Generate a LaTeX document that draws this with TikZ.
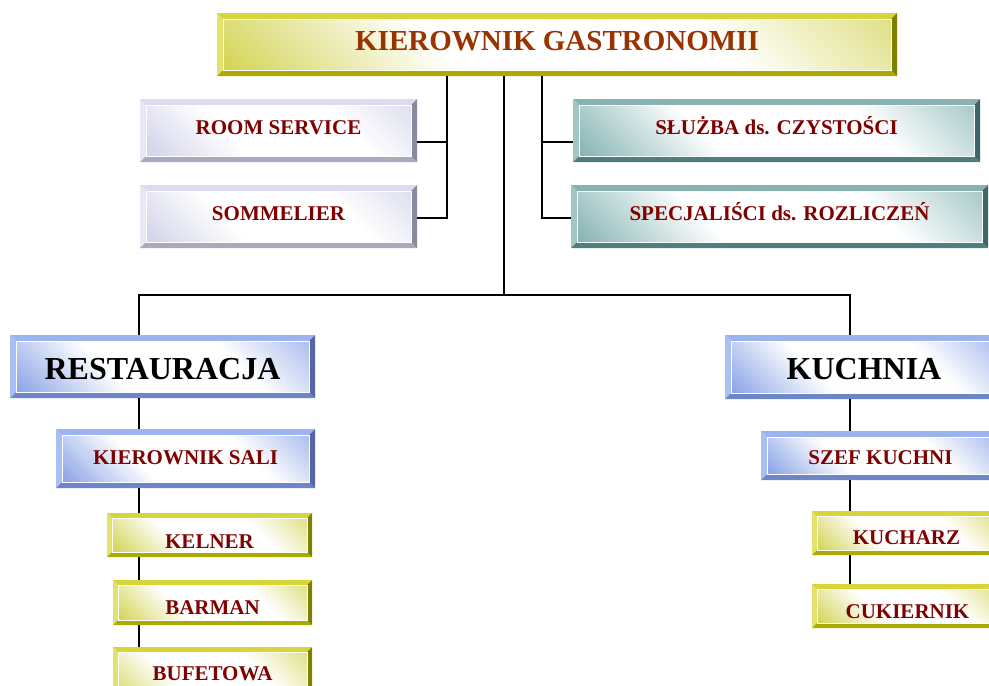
\documentclass[tikz,border=0pt]{standalone}
\usepackage{fontspec}
\setmainfont{Liberation Serif}
\usetikzlibrary{calc}

% bevel palettes: L left, T top, B bottom, R right, F face tint
\definecolor{yelL}{HTML}{E2E26C}
\definecolor{yelT}{HTML}{D6D63A}
\definecolor{yelB}{HTML}{AAAA00}
\definecolor{yelR}{HTML}{808000}
\definecolor{yelF}{HTML}{D4D458}
\definecolor{lavL}{HTML}{E8E8F4}
\definecolor{lavT}{HTML}{DCDCEE}
\definecolor{lavB}{HTML}{AAAABC}
\definecolor{lavR}{HTML}{8A8A9E}
\definecolor{lavF}{HTML}{D2D2EA}
\definecolor{teaL}{HTML}{A2C6C6}
\definecolor{teaT}{HTML}{88B2B2}
\definecolor{teaB}{HTML}{507E7E}
\definecolor{teaR}{HTML}{3E6666}
\definecolor{teaF}{HTML}{86B4B4}
\definecolor{bluL}{HTML}{AAC0F4}
\definecolor{bluT}{HTML}{9CB4EE}
\definecolor{bluB}{HTML}{6C86C8}
\definecolor{bluR}{HTML}{5466A8}
\definecolor{bluF}{HTML}{8AA4E6}
\definecolor{headtxt}{HTML}{993300}
\definecolor{redtxt}{HTML}{800000}
\colorlet{facetint}{yelF}

% face gradient along the box diagonal: tint in two opposite corners, white between
\pgfdeclarehorizontalshading[facetint]{facesh}{100bp}{%
  color(0bp)=(facetint); color(15bp)=(facetint);
  color(38bp)=(white); color(66bp)=(white);
  color(85bp)=(facetint!70!white); color(100bp)=(facetint!70!white)}

\newcommand\txtHead{\fontsize{29}{33}\selectfont\bfseries\color{headtxt}}
\newcommand\txtBig{\fontsize{32}{36}\selectfont\bfseries\color{black}}
\newcommand\txtMain{\fontsize{21}{25}\selectfont\bfseries\color{redtxt}}

\tikzset{
  boxshape/.style={rectangle, inner sep=0pt, outer sep=0pt},
  lbl/.style={inner sep=0pt, anchor=base},
  wire/.style={draw=black, line width=1.3pt},
}

% #1 name, #2 x1, #3 y1, #4 x2, #5 y2, #6 palette, #7 bevel width, #8 baseline, #9 text
\newcommand\bvbox[9]{%
  \fill[#6L] (#2,#3) -- (#2,#5) -- ({#2+#7},{#5-#7}) -- ({#2+#7},{#3+#7}) -- cycle;
  \fill[#6T] (#2,#3) -- (#4,#3) -- ({#4-#7},{#3+#7}) -- ({#2+#7},{#3+#7}) -- cycle;
  \fill[#6B] (#2,#5) -- (#4,#5) -- ({#4-#7},{#5-#7}) -- ({#2+#7},{#5-#7}) -- cycle;
  \fill[#6R] (#4,#3) -- (#4,#5) -- ({#4-#7},{#5-#7}) -- ({#4-#7},{#3+#7}) -- cycle;
  \colorlet{facetint}{#6F}%
  \shade[shading=facesh, shading angle=45]
    ({#2+#7},{#3+#7}) rectangle ({#4-#7},{#5-#7});
  \draw[white, line width=0.4pt] ({#2+#7},{#3+#7}) rectangle ({#4-#7},{#5-#7});
  \node[boxshape, minimum width={#4pt-#2pt}, minimum height={#5pt-#3pt}] (#1)
    at ({(#2+#4)/2},{(#3+#5)/2}) {};
  \node[lbl] (#1-t) at ({(#2+#4)/2},#8) {#9};
}

\begin{document}
\begin{tikzpicture}[x=1pt, y=-1pt]
  \useasboundingbox (0,0) rectangle (989,686);
  \clip (0,0) rectangle (989,686);
  \fill[white] (0,0) rectangle (989,686);

  % top of the hierarchy
  \bvbox{kg}{217}{13}{897}{76}{yel}{6}{50}{\txtHead KIEROWNIK GASTRONOMII}

  % staff reporting directly
  \bvbox{rs}{140}{99}{417}{162}{lav}{6}{134}{\txtMain ROOM SERVICE}
  \bvbox{so}{140}{185}{417}{248}{lav}{6}{220}{\txtMain SOMMELIER}
  \bvbox{sl}{573}{99}{980}{162}{tea}{6}{134}{\txtMain SŁUŻBA ds. CZYSTOŚCI}
  \bvbox{sp}{571}{185}{988}{248}{tea}{6}{220}{\txtMain SPECJALIŚCI ds. ROZLICZEŃ}

  % restaurant branch
  \bvbox{re}{10}{335}{315}{398}{blu}{6}{379}{\txtBig RESTAURACJA}
  \bvbox{ks}{56}{429}{315}{488}{blu}{6}{464}{\txtMain KIEROWNIK SALI}
  \bvbox{ke}{107}{513}{312}{557}{yel}{5}{548}{\txtMain KELNER}
  \bvbox{ba}{113}{580}{312}{625}{yel}{5}{614}{\txtMain BARMAN}
  \bvbox{bu}{113}{647}{312}{712}{yel}{5}{680}{\txtMain BUFETOWA}

  % kitchen branch
  \bvbox{ku}{725}{335}{1003}{399}{blu}{6}{379}{\txtBig KUCHNIA}
  \bvbox{sz}{761}{431}{1000}{480}{blu}{6}{464}{\txtMain SZEF KUCHNI}
  \bvbox{kc}{812}{511}{1001}{555}{yel}{5}{544}{\txtMain KUCHARZ}
  \bvbox{cu}{812}{584}{1003}{628}{yel}{5}{618}{\txtMain CUKIERNIK}

  % junction points
  \coordinate (jl) at (447,76);
  \coordinate (jr) at (542,76);
  \coordinate (hub) at (504,295);
  \coordinate (spL) at (139,335);
  \coordinate (spR) at (850,335);

  % connectors
  \draw[wire] (kg.south -| jl) |- ([yshift=-11.5pt]rs.east);
  \draw[wire] (kg.south -| jl) |- ([yshift=-1.5pt]so.east);
  \draw[wire] (kg.south -| jr) |- ([yshift=-11.5pt]sl.west);
  \draw[wire] (kg.south -| jr) |- ([yshift=-1.5pt]sp.west);
  \draw[wire] (kg.south -| hub) -- (hub);
  \draw[wire] (re.north -| spL) |- (hub) -| (ku.north -| spR);

  \draw[wire] (re.south -| spL) -- (ks.north -| spL);
  \draw[wire] (ks.south -| spL) -- (ke.north -| spL);
  \draw[wire] (ke.south -| spL) -- (ba.north -| spL);
  \draw[wire] (ba.south -| spL) -- (bu.north -| spL);

  \draw[wire] (ku.south -| spR) -- (sz.north -| spR);
  \draw[wire] (sz.south -| spR) -- (kc.north -| spR);
  \draw[wire] (kc.south -| spR) -- (cu.north -| spR);
\end{tikzpicture}
\end{document}
